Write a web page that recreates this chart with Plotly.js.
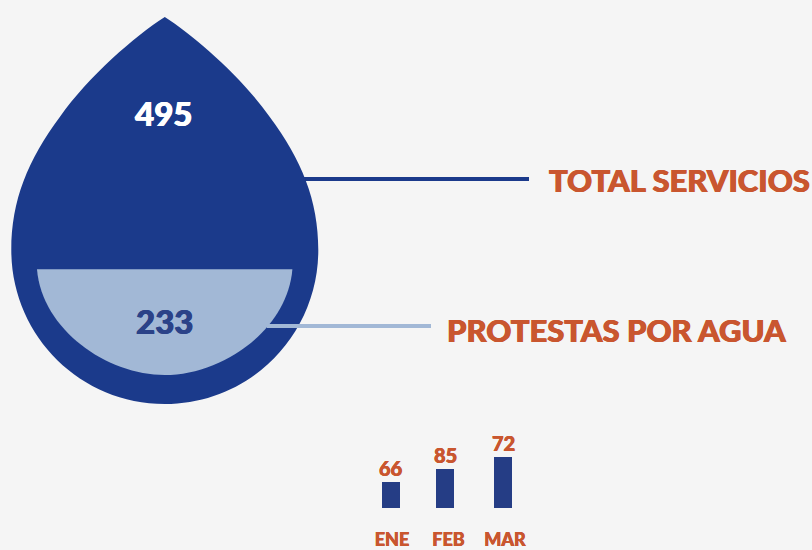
<!DOCTYPE html>
<html>
<head>
<meta charset="utf-8">
<script src="https://cdn.plot.ly/plotly-3.0.0.min.js"></script>
<style>html,body{margin:0;padding:0;background:#f5f5f5;}#chart{width:812px;height:550px;}</style>
</head>
<body>
<div id="chart"></div>
<script>
// Data
var months = ['ENE', 'FEB', 'MAR'];
var monthLabels = [66, 85, 72];        // figures printed over the bars
var monthBarHeights = [26, 39, 51];    // bar lengths as drawn in the reference (not proportional to the printed figures)
var totalServicios = 495;
var protestasAgua = 233;
var seriesNames = ['TOTAL SERVICIOS', 'PROTESTAS POR AGUA'];

// Colours
var BG = '#f5f5f5', DROP = '#1b3a8b', FILL = '#a2b8d6', ORANGE = '#c9562f', BAR = '#253d85', NUM2 = '#2b4288';
var FONT = 'Lato, sans-serif';

function heavy(color, size) {
  var d = (size > 25 ? 0.5 : 0.3) + 'px';
  return {family: FONT, size: size, color: color, weight: 900,
    shadow: d + ' 0 0 ' + color + ', -' + d + ' 0 0 ' + color};
}

var dropPath = 'M164.8,17 C135,36 88,77 60,116.7 C28,160 11.3,200 11.3,250 ' +
  'C11.3,335 79.7,404 164.8,404 C249.9,404 318.3,335 318.3,250 ' +
  'C318.3,200 301.6,160 269.6,116.7 C241.6,77 194.6,36 164.8,17 Z';
var fillPath = 'M37,269.3 C42,330 107,375 164.7,375 C222.4,375 287.4,330 292.4,269.3 Z';

var trace = {
  type: 'bar',
  x: months,
  y: monthBarHeights,
  cliponaxis: false,
  marker: {color: BAR},
  width: 0.3186,
  offset: [-0.177, -0.221, -0.195],
  text: monthLabels.map(String),
  textposition: 'none',
  hoverinfo: 'x+text',
  xaxis: 'x',
  yaxis: 'y'
};

var barLabelAnnotations = months.map(function (m, i) {
  var shift = [-1, -3.5, -2][i];
  return {xref: 'x', yref: 'y', x: m, y: monthBarHeights[i], text: String(monthLabels[i]),
    showarrow: false, xanchor: 'center', yanchor: 'bottom', xshift: shift, yshift: 0,
    font: heavy(ORANGE, 20)};
});

var layout = {
  width: 812,
  height: 550,
  margin: {l: 0, r: 0, t: 0, b: 0},
  paper_bgcolor: BG,
  plot_bgcolor: 'rgba(0,0,0,0)',
  showlegend: false,
  font: {family: FONT},
  xaxis: {
    domain: [360 / 812, 540 / 812],
    range: [-0.566, 2.619],
    type: 'category',
    categoryorder: 'array',
    categoryarray: months,
    showgrid: false, zeroline: false, showline: false,
    ticks: '',
    ticklabelstandoff: 19,
    tickfont: heavy(ORANGE, 18),
    anchor: 'y',
    fixedrange: true
  },
  yaxis: {
    domain: [42 / 550, 122 / 550],
    range: [0, 80],
    visible: false,
    fixedrange: true,
    anchor: 'x'
  },
  xaxis2: {domain: [0, 1], range: [0, 812], visible: false, anchor: 'y2', fixedrange: true},
  yaxis2: {domain: [0, 1], range: [550, 0], visible: false, anchor: 'x2', fixedrange: true},
  shapes: [
    {type: 'line', xref: 'x2', yref: 'y2', x0: 296, x1: 529, y0: 179, y1: 179, line: {color: DROP, width: 4}, layer: 'below'},
    {type: 'path', xref: 'x2', yref: 'y2', path: dropPath, fillcolor: DROP, line: {width: 0}, layer: 'below'},
    {type: 'path', xref: 'x2', yref: 'y2', path: fillPath, fillcolor: FILL, line: {width: 0}, layer: 'below'},
    {type: 'line', xref: 'x2', yref: 'y2', x0: 267, x1: 431, y0: 326, y1: 326, line: {color: FILL, width: 4}, layer: 'below'}
  ],
  annotations: [
    {xref: 'x2', yref: 'y2', x: 163.7, y: 113, text: String(totalServicios), showarrow: false, xanchor: 'center', yanchor: 'middle',
      font: heavy('#ffffff', 33)},
    {xref: 'x2', yref: 'y2', x: 164, y: 321, text: String(protestasAgua), showarrow: false, xanchor: 'center', yanchor: 'middle',
      font: heavy(NUM2, 33)},
    {xref: 'x2', yref: 'y2', x: 546.5, y: 180, text: seriesNames[0], showarrow: false, xanchor: 'left', yanchor: 'middle',
      font: heavy(ORANGE, 31)},
    {xref: 'x2', yref: 'y2', x: 445, y: 329.5, text: seriesNames[1], showarrow: false, xanchor: 'left', yanchor: 'middle',
      font: heavy(ORANGE, 31)}
  ].concat(barLabelAnnotations)
};

Plotly.newPlot('chart', [trace], layout, {displayModeBar: false, responsive: false});
</script>
</body>
</html>
